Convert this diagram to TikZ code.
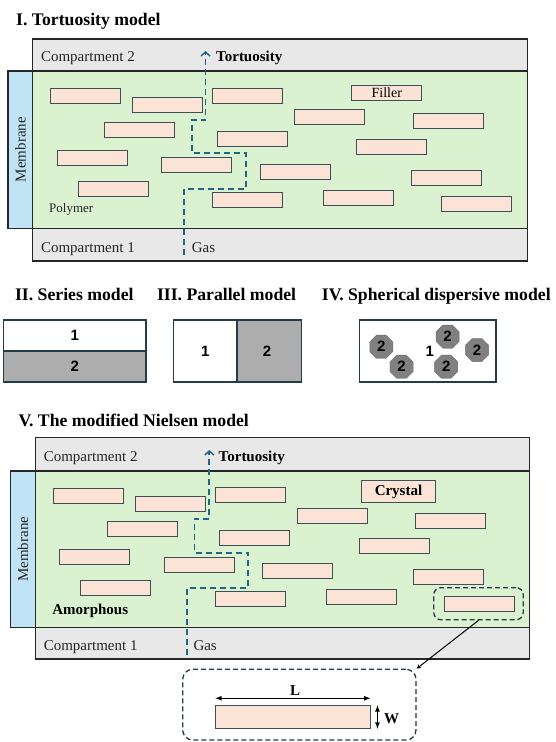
\documentclass[tikz,border=0pt]{standalone}
\usepackage{fontspec}
\setmainfont{Liberation Serif}
\newfontfamily\numfont{Liberation Sans}
\usetikzlibrary{shapes.geometric,calc,arrows.meta}
\definecolor{compgray}{HTML}{E8E8E8}
\definecolor{polygreen}{HTML}{DAF2D0}
\definecolor{membblue}{HTML}{C0E4F5}
\definecolor{fillpink}{HTML}{FBE3D6}
\definecolor{fillline}{HTML}{3D4F58}
\definecolor{pathblue}{HTML}{1F6687}
\definecolor{modelgray}{HTML}{ADADAD}
\definecolor{sphgray}{HTML}{808080}
\definecolor{boxline}{HTML}{262626}
\definecolor{modelline}{HTML}{243B4A}
\tikzset{
  filler/.style={draw=fillline,fill=fillpink,line width=.9pt,minimum width=70pt,minimum height=15pt,inner sep=0pt,font=\fontsize{14}{16}\selectfont},
  region/.style={draw=boxline,line width=1.5pt},
  lbl/.style={inner sep=0pt,anchor=base west,text=boxline,font=\fontsize{15}{18}\selectfont},
  ttl/.style={inner sep=0pt,anchor=base west,font=\fontsize{17.7}{21}\selectfont\bfseries},
  num/.style={inner sep=0pt,font=\numfont\bfseries\fontsize{15}{18}\selectfont},
  sphere/.style={regular polygon,regular polygon sides=8,minimum size=25pt,inner sep=0pt,fill=sphgray,draw=sphgray!85!black,num},
  tort/.style={pathblue,line width=1.8pt,dash pattern=on 6pt off 4pt,-{Straight Barb[length=4pt,width=9pt,line width=1.5pt]}},
  dashbox/.style={draw=modelline,line width=1.3pt,dash pattern=on 5pt off 3pt,inner sep=0pt}
}
\begin{document}
\begin{tikzpicture}[x=1pt,y=-1pt]
\useasboundingbox (0,0) rectangle (556,742);

% I. tortuosity model
\draw[region,fill=compgray](32.6,39)rectangle(527.4,71); %compartment 2
\draw[region,fill=polygreen](32.6,71)rectangle(527.4,228.3); %polymer
\draw[region,fill=compgray](32.6,228.3)rectangle(527.4,261); %compartment 1
\draw[region,fill=membblue](8.2,71)rectangle(32.6,228.3); %membrane
\node[filler] (fI1) at (85.5,95.8){};
\node[filler] (fI2) at (167.3,104.5){};
\node[filler] (fI3) at (247.6,95.8){};
\node[filler] (fI4) at (386.8,92.7){Filler};
\node[filler] (fI5) at (329.5,116.7){};
\node[filler] (fI6) at (448.2,120.8){};
\node[filler] (fI7) at (139.4,129.8){};
\node[filler] (fI8) at (252,139.2){};
\node[filler] (fI9) at (391.6,146.8){};
\node[filler] (fI10) at (92,157.7){};
\node[filler] (fI11) at (196.7,165.2){};
\node[filler] (fI12) at (295.1,171.7){};
\node[filler] (fI13) at (446.4,178){};
\node[filler] (fI14) at (113.2,189){};
\node[filler] (fI15) at (247.6,199.7){};
\node[filler] (fI16) at (358.6,197.8){};
\node[filler] (fI17) at (476.4,204.2){};
\coordinate (gasI) at (183.7,255);
\coordinate (outI) at (205.5,51);
\draw[tort](gasI)--(183.7,189)--(245.8,189)--(245.8,153.3)--(191.9,153.3)--(191.9,120)--(205.5,120)--(outI); %gas path

% II.-IV. models
\draw[draw=modelline,line width=1.3pt,fill=white](3.5,320)rectangle(146.1,351); %series
\draw[draw=modelline,line width=1.3pt,fill=modelgray](3.5,351)rectangle(146.1,382);
\draw[draw=modelline,line width=1.3pt,fill=white](173.8,320)rectangle(236.9,382); %parallel
\draw[draw=modelline,line width=1.3pt,fill=modelgray](236.9,320)rectangle(301.8,382);
\draw[draw=modelline,line width=1.3pt,fill=white](359.3,320)rectangle(495.9,382); %spherical
\node[num] (se1) at (74.8,335.5){1};
\node[num] (se2) at (74.8,366.5){2};
\node[num] (pa1) at (205.4,351){1};
\node[num] (pa2) at (267,351){2};
\node[sphere] (s1) at (381.3,346.7){2};
\node[sphere] (s2) at (401.5,366.7){2};
\node[sphere] (s3) at (447.6,336.7){2};
\node[sphere] (s4) at (446.2,366.7){2};
\node[sphere] (s5) at (477.1,350){2};
\node[num] (sp1) at (429.9,351.7){1};

% V. modified Nielsen model
\draw[region,fill=compgray](35.5,437.7)rectangle(529.6,471); %compartment 2
\draw[region,fill=polygreen](35.5,471)rectangle(529.6,627.7); %amorphous
\draw[region,fill=compgray](35.5,627.7)rectangle(529.6,659); %compartment 1
\draw[region,fill=membblue](10.6,471)rectangle(35.5,627.7); %membrane
\node[filler] (fV1) at (88.2,495.5){};
\node[filler] (fV2) at (170.4,503.8){};
\node[filler] (fV3) at (250,495.3){};
\node[filler,minimum width=74pt,minimum height=21.6pt,font=\fontsize{15}{18}\selectfont\bfseries] (fV4) at (398.5,491.5){Crystal};
\node[filler] (fV5) at (332.5,515.8){};
\node[filler] (fV6) at (450.3,520.5){};
\node[filler] (fV7) at (142.2,528.7){};
\node[filler] (fV8) at (254.9,538.3){};
\node[filler] (fV9) at (394.6,546){};
\node[filler] (fV10) at (94.5,556.8){};
\node[filler] (fV11) at (199.7,564.5){};
\node[filler] (fV12) at (297.4,570.5){};
\node[filler] (fV13) at (448.9,576.8){};
\node[filler] (fV14) at (115.5,588.2){};
\node[filler] (fV15) at (250,599){};
\node[filler] (fV16) at (361.8,597){};
\node[filler] (fV17) at (479.6,603.5){};
\node[dashbox,rounded corners=7pt,minimum width=89.4pt,minimum height=32pt] (sel) at (478.5,603.7){}; %picked crystal
\coordinate (gasV) at (186.9,655);
\coordinate (outV) at (209.3,450);
\draw[tort](gasV)--(186.9,587.7)--(248.3,587.7)--(248.3,552.7)--(194.4,552.7)--(194.4,519)--(209.3,519)--(outV); %gas path

% enlarged crystal
\node[dashbox,rounded corners=10pt,minimum width=233.3pt,minimum height=70.7pt] (zoombox) at (299.35,704.65){};
\node[filler,minimum width=154.3pt,minimum height=22.6pt] (bar) at (292.85,717){};
\draw[->,>=stealth,line width=1pt](sel.south)--(zoombox.north east);
\draw[<->,>=latex,line width=1.2pt]([yshift=7pt]bar.north west)--([yshift=7pt]bar.north east); %length
\draw[<->,>=latex,line width=1.2pt]([xshift=7pt]bar.north east)--([xshift=7pt]bar.south east); %width

%labels
\node[ttl] (t1) at (16,25){I. Tortuosity model};
\node[lbl] (c2I) at (40.8,61.5){Compartment 2};
\node[lbl,text=black,font=\fontsize{15}{18}\selectfont\bfseries] (tI) at (216,61.5){Tortuosity};
\node[lbl] (c1I) at (40.8,252){Compartment 1};
\node[lbl] (gI) at (191.7,252){Gas};
\node[lbl,font=\fontsize{13}{15}\selectfont] (pI) at (49,212.7){Polymer};
\node[lbl,rotate=90,anchor=center] (mI) at (20.4,149.6){Membrane};
\node[ttl] (t2) at (14.9,300.7){II. Series model};
\node[ttl] (t3) at (156.8,300.7){III. Parallel model};
\node[ttl] (t4) at (321.7,300.7){IV. Spherical dispersive model};
\node[ttl] (t5) at (18.4,426.7){V. The modified Nielsen model};
\node[lbl] (c2V) at (43.6,461){Compartment 2};
\node[lbl,text=black,font=\fontsize{15}{18}\selectfont\bfseries] (tV) at (218.5,461){Tortuosity};
\node[lbl] (c1V) at (43.6,650){Compartment 1};
\node[lbl] (gV) at (193.3,650){Gas};
\node[lbl,text=black,font=\fontsize{15}{18}\selectfont\bfseries] (aV) at (52.1,614.3){Amorphous};
\node[lbl,rotate=90,anchor=center] (mV) at (23,549.3){Membrane};
\node[lbl,text=black,anchor=base,font=\fontsize{15}{18}\selectfont\bfseries] (L) at (295,695){L};
\node[lbl,text=black,font=\fontsize{15}{18}\selectfont\bfseries] (W) at (384,723){W};

\end{tikzpicture}
\end{document}
